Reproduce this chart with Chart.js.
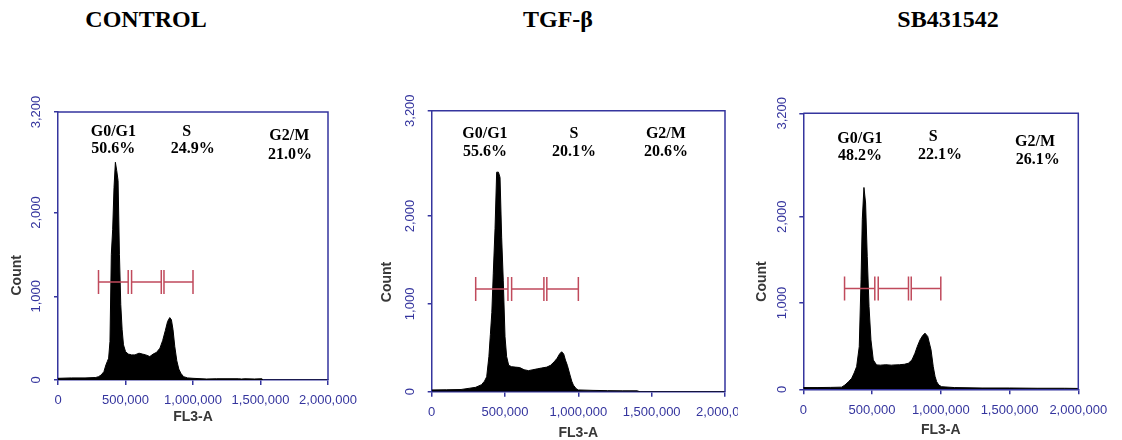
<!DOCTYPE html>
<html>
<head>
<meta charset="utf-8">
<script src="https://cdn.jsdelivr.net/npm/chart.js@4.4.1/dist/chart.umd.min.js"></script>
<style>
  body { margin: 0; background: #fff; width: 1122px; height: 440px; position: relative; overflow: hidden; }
  .title { position: absolute; top: 6px; line-height: 28px; font: bold 24px "Liberation Serif", "Times New Roman", serif; color: #000; transform: translateX(-50%); white-space: nowrap; }
  canvas { position: absolute; top: 80px; }
</style>
</head>
<body>
<div class="title" id="t1" style="left:146px"></div>
<div class="title" id="t2" style="left:558px"></div>
<div class="title" id="t3" style="left:948px"></div>
<canvas id="c1" width="370" height="360" style="left:0px"></canvas>
<canvas id="c2" width="368" height="360" style="left:370px"></canvas>
<canvas id="c3" width="377" height="360" style="left:745px"></canvas>
<script>
// panel titles and cell cycle phases
var panelNames = ['CONTROL', 'TGF-β', 'SB431542'];
var phaseNames = ['G0/G1', 'S', 'G2/M'];

// phase percentages per panel
var controlPct = [50.6, 24.9, 21.0];
var tgfPct = [55.6, 20.1, 20.6];
var sbPct = [48.2, 22.1, 26.1];

// axis ticks
var xTicks = [0, 500000, 1000000, 1500000, 2000000];
var yTicks = [0, 1000, 2000, 3200];

// gate markers (FL3-A ranges) and the count level they sit at
var gateRanges = [[300000, 520000], [545000, 765000], [785000, 1000000]];
var gateLevel = 1170;

// histograms: FL3-A (in thousands) and counts
var controlFL3k = [0, 100, 200, 280, 300, 320, 340, 355, 365, 375, 385, 395, 405, 415, 425, 435, 445, 455, 465, 475, 485, 500, 520, 545, 570, 600, 625, 650, 680, 705, 730, 755, 775, 795, 812, 828, 840, 852, 865, 880, 895, 910, 930, 960, 1000, 1100, 1175, 1335, 1360, 1385, 1455, 1510, 1520, 2000];
var controlCount = [20, 25, 25, 30, 40, 60, 100, 180, 220, 260, 460, 1500, 1800, 2300, 2600, 2500, 2380, 1500, 900, 600, 420, 340, 310, 300, 300, 320, 310, 300, 280, 310, 330, 380, 470, 590, 700, 745, 720, 600, 400, 230, 130, 80, 40, 25, 20, 12, 15, 15, 12, 15, 12, 15, 0, 0];

var tgfFL3k = [0, 100, 200, 260, 300, 340, 360, 375, 390, 400, 410, 420, 432, 443, 455, 466, 477, 488, 500, 511, 525, 545, 570, 600, 630, 660, 690, 720, 750, 785, 810, 835, 855, 872, 886, 900, 912, 925, 943, 955, 966, 985, 1000, 1100, 1200, 1300, 1400, 1420, 2000];
var tgfCount = [20, 22, 25, 40, 50, 80, 120, 170, 400, 650, 900, 1350, 1860, 2500, 2500, 2440, 1760, 1270, 625, 400, 300, 285, 280, 275, 250, 240, 250, 260, 270, 280, 300, 340, 380, 430, 455, 430, 360, 300, 190, 120, 75, 35, 20, 15, 12, 10, 10, 0, 0];

var sbFL3k = [0, 100, 200, 279, 303, 330, 352, 370, 388, 407, 420, 429, 441, 453, 465, 478, 492, 509, 533, 560, 600, 640, 667, 700, 735, 764, 790, 812, 830, 849, 867, 885, 905, 929, 945, 958, 970, 985, 1006, 1100, 1300, 1500, 1700, 1900, 2000];
var sbCount = [20, 20, 22, 25, 50, 90, 128, 190, 263, 495, 1270, 1970, 2340, 2160, 1540, 960, 573, 340, 283, 280, 285, 280, 283, 285, 290, 302, 340, 418, 500, 573, 620, 651, 612, 457, 263, 150, 88, 50, 30, 20, 15, 15, 12, 12, 10];

var axisBlue = '#35359e';
var gateRed = '#c04a5c';

function fmt(v) {
  return String(v).replace(/\B(?=(\d{3})+(?!\d))/g, ',');
}

var panels = [
  { canvas: 'c1', title: 't1', name: panelNames[0], xs: controlFL3k, ys: controlCount, pct: controlPct,
    area: { left: 58, top: 32, right: 42, bottom: 60 },
    labelAt: [[410000, 2960], [953000, 2964], [1713000, 2912]],
    pctAt: [[410000, 2760], [998000, 2760], [1718000, 2688]],
    xTitleGap: 37, yTitleGap: 41 },
  { canvas: 'c2', title: 't2', name: panelNames[1], xs: tgfFL3k, ys: tgfCount, pct: tgfPct,
    area: { left: 61.7, top: 30.7, right: 13, bottom: 48.3 },
    labelAt: [[363000, 2935], [970000, 2935], [1597000, 2935]],
    pctAt: [[363000, 2734], [970000, 2734], [1597000, 2734]],
    xTitleGap: 41.6, yTitleGap: 45 },
  { canvas: 'c3', title: 't3', name: panelNames[2], xs: sbFL3k, ys: sbCount, pct: sbPct,
    area: { left: 58.3, top: 33.3, right: 43.7, bottom: 50.7 },
    labelAt: [[412000, 2907], [945000, 2931], [1685000, 2868]],
    pctAt: [[412000, 2705], [994000, 2713], [1705000, 2655]],
    xTitleGap: 40.7, yTitleGap: 41.6 }
];

function makeMarks(p) {
  return {
    id: 'marks',
    afterDatasetsDraw: function(chart) {
      var ctx = chart.ctx, xs = chart.scales.x, ys = chart.scales.y;
      var yy = ys.getPixelForValue(gateLevel);
      ctx.save();
      ctx.strokeStyle = gateRed;
      ctx.lineWidth = 1.5;
      gateRanges.forEach(function(g) {
        var a = xs.getPixelForValue(g[0]), b = xs.getPixelForValue(g[1]);
        ctx.beginPath();
        ctx.moveTo(a, yy); ctx.lineTo(b, yy);
        ctx.moveTo(a, yy - 12); ctx.lineTo(a, yy + 12);
        ctx.moveTo(b, yy - 12); ctx.lineTo(b, yy + 12);
        ctx.stroke();
      });
      ctx.restore();
    },
    afterDraw: function(chart) {
      var ctx = chart.ctx, area = chart.chartArea, xs = chart.scales.x, ys = chart.scales.y;
      ctx.save();
      // top and right frame lines
      ctx.strokeStyle = axisBlue;
      ctx.lineWidth = 1.5;
      ctx.beginPath();
      ctx.moveTo(area.left, area.top); ctx.lineTo(area.right, area.top); ctx.lineTo(area.right, area.bottom);
      ctx.stroke();

      // phase labels
      ctx.fillStyle = '#000';
      ctx.font = 'bold 16px "Liberation Serif", "Times New Roman", serif';
      ctx.textAlign = 'center';
      ctx.textBaseline = 'middle';
      phaseNames.forEach(function(n, i) {
        ctx.fillText(n, xs.getPixelForValue(p.labelAt[i][0]), ys.getPixelForValue(p.labelAt[i][1]));
        ctx.fillText(p.pct[i].toFixed(1) + '%', xs.getPixelForValue(p.pctAt[i][0]), ys.getPixelForValue(p.pctAt[i][1]));
      });

      // axis titles
      ctx.fillStyle = '#383838';
      ctx.font = 'bold 14px "Liberation Sans", Arial, sans-serif';
      ctx.fillText('FL3-A', xs.getPixelForValue(1000000), area.bottom + p.xTitleGap);
      ctx.translate(area.left - p.yTitleGap, ys.getPixelForValue(1250));
      ctx.rotate(-Math.PI / 2);
      ctx.fillText('Count', 0, 0);
      ctx.restore();
    }
  };
}

panels.forEach(function(p) {
  document.getElementById(p.title).textContent = p.name;
  var pts = p.xs.map(function(v, i) { return { x: v * 1000, y: p.ys[i] }; });
  new Chart(document.getElementById(p.canvas), {
    type: 'line',
    data: {
      datasets: [{
        data: pts,
        borderColor: '#000',
        backgroundColor: '#000',
        borderWidth: 1,
        pointRadius: 0,
        fill: 'origin',
        tension: 0
      }]
    },
    options: {
      responsive: false,
      animation: false,
      layout: { padding: { left: 0, top: p.area.top, right: p.area.right, bottom: 0 } },
      plugins: { legend: { display: false }, tooltip: { enabled: false } },
      scales: {
        x: {
          type: 'linear', min: 0, max: 2000000,
          afterBuildTicks: function(s) { s.ticks = xTicks.map(function(v) { return { value: v }; }); },
          afterFit: function(s) { s.height = p.area.bottom; s.paddingLeft = 0; s.paddingRight = 0; },
          ticks: {
            autoSkip: false, maxRotation: 0, minRotation: 0, padding: 8,
            color: axisBlue, font: { family: '"Liberation Sans", Arial, sans-serif', size: 13 },
            callback: function(v) { return fmt(v); }
          },
          grid: { drawOnChartArea: false, tickLength: 5, color: axisBlue, lineWidth: 1.5 },
          border: { color: axisBlue, width: 1.5 }
        },
        y: {
          min: 0, max: 3200,
          afterBuildTicks: function(s) { s.ticks = yTicks.map(function(v) { return { value: v }; }); },
          afterFit: function(s) { s.width = p.area.left; s.paddingTop = 0; s.paddingBottom = 0; },
          ticks: {
            minRotation: 90, maxRotation: 90, crossAlign: 'center', padding: 1,
            color: axisBlue, font: { family: '"Liberation Sans", Arial, sans-serif', size: 13 },
            callback: function(v) { return fmt(v); }
          },
          grid: { drawOnChartArea: false, tickLength: 4, color: axisBlue, lineWidth: 1.5 },
          border: { color: axisBlue, width: 1.5 }
        }
      }
    },
    plugins: [makeMarks(p)]
  });
});
</script>
</body>
</html>
